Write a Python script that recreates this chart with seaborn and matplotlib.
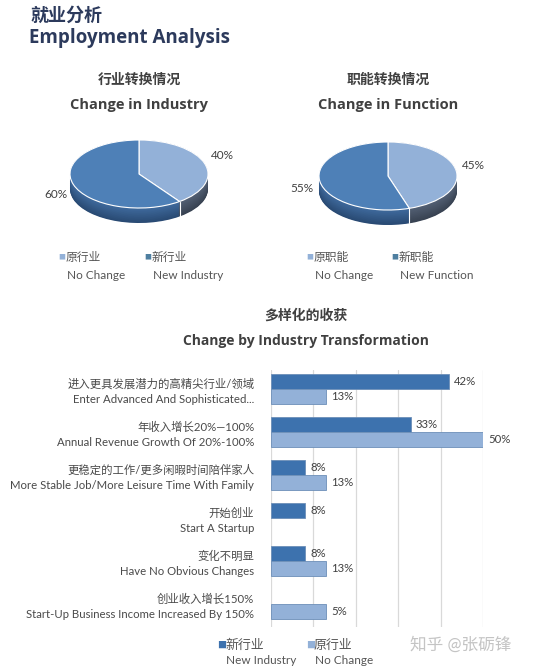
import numpy as np
import pandas as pd
import matplotlib
matplotlib.use("Agg")
import matplotlib.pyplot as plt
import seaborn as sns

# ---------------- data ----------------
pie1_labels = ["原行业", "新行业"]
pie1_labels_en = ["No Change", "New Industry"]
pie1_values = [40, 60]

pie2_labels = ["原职能", "新职能"]
pie2_labels_en = ["No Change", "New Function"]
pie2_values = [45, 55]

bar_categories_cn = ["进入更具发展潜力的高精尖行业/领域", "年收入增长20%—100%",
                     "更稳定的工作/更多闲暇时间陪伴家人", "开始创业",
                     "变化不明显", "创业收入增长150%"]
bar_categories_en = ["Enter Advanced And Sophisticated...", "Annual Revenue Growth Of 20%-100%",
                     "More Stable Job/More Leisure Time With Family", "Start A Startup",
                     "Have No Obvious Changes", "Start-Up Business Income Increased By 150%"]
new_industry = [42, 33, 8, 8, 8, None]
new_industry_labels = ["42%", "33%", "8%", "8%", "8%", None]
no_change = [13, 50, 13, None, 13, 13]
no_change_labels = ["13%", "50%", "13%", None, "13%", "5%"]
series_names = ["新行业", "原行业"]
series_names_en = ["New Industry", "No Change"]

# ---------------- style ----------------
sns.set_theme(style="white")
FAM = ["Lato", "Noto Sans CJK SC", "DejaVu Sans"]
FAMB = ["Open Sans", "Noto Sans CJK SC", "DejaVu Sans"]
plt.rcParams["font.family"] = FAM

W, H = 540, 667
fig = plt.figure(figsize=(W / 100, H / 100), dpi=100)
fig.patch.set_facecolor("white")


def box(x0, y0, x1, y1):
    return [x0 / W, 1 - y1 / H, (x1 - x0) / W, (y1 - y0) / H]


def ftxt(x, y, s, **kw):
    return fig.text(x / W, 1 - y / H, s, **kw)


DARK = "#3D72AE"
LIGHT = "#93B1D8"
TXT = "#404040"

# ---------------- header ----------------
ftxt(30, 16, "就业分析", fontsize=13, fontweight="bold", color="#2C3A5C",
     family=FAMB, va="center", ha="left")
ftxt(29, 38, "Employment Analysis", fontsize=13.5, fontweight="bold", color="#2C3A5C",
     family=FAMB, va="center", ha="left")


# ---------------- pies ----------------
def draw_pie(cx, cy, values, title_cn, title_en, leg_cn, leg_en, leg_x):
    rx, ry, depth_px = 69.0, 34.0, 15.0
    x0, x1, y0, y1 = cx - 115, cx + 115, cy - 45, cy + 50
    ax = fig.add_axes(box(x0, y0, x1, y1))
    depth = depth_px / ry
    top_cols = [LIGHT, "#4E80B7"]
    side_top = np.array([[0.33, 0.38, 0.46], [0.25, 0.42, 0.62]])
    side_bot = np.array([[0.22, 0.26, 0.32], [0.16, 0.29, 0.45]])
    n = 24
    for i, k in enumerate(np.linspace(depth, 0.0, n)):
        t = i / (n - 1)
        cols = [tuple(side_bot[j] * (1 - t) + side_top[j] * t) for j in range(2)]
        ax.pie(values, colors=cols, startangle=90, counterclock=False,
               center=(0, -k), radius=1.0, wedgeprops=dict(linewidth=0))
    total = float(sum(values))
    ang = np.deg2rad(360 * values[0] / total)
    bx, by = np.sin(ang), np.cos(ang)
    if by < 0:
        ax.plot([bx, bx], [by, by - depth], color="white", lw=0.8)
    wedges, texts = ax.pie(values, colors=top_cols, startangle=90, counterclock=False,
                           radius=1.0, labels=[f"{v}%" for v in values],
                           labeldistance=1.09,
                           wedgeprops=dict(edgecolor="white", linewidth=0.8),
                           textprops=dict(fontsize=8.5, color=TXT))
    for t in texts:
        xx, yy = t.get_position()
        t.set_position((xx, yy * 1.455 - (0.12 if yy < 0 else -0.05)))
    ax.set_aspect("auto")
    ax.set_xlim((x0 - cx) / rx, (x1 - cx) / rx)
    ax.set_ylim(-(y1 - cy) / ry, (cy - y0) / ry)
    ax.axis("off")
    # titles
    ftxt(cx, 80, title_cn, fontsize=10, fontweight="bold", color=TXT, family=FAMB,
         ha="center", va="center")
    ftxt(cx, 105, title_en, fontsize=10.5, fontweight="bold", color=TXT, family=FAMB,
         ha="center", va="center")
    # legend
    for j, (lc, le) in enumerate(zip(leg_cn, leg_en)):
        lx = leg_x[j]
        ftxt(lx, 257, "■", fontsize=5, color=[LIGHT, "#4E7FA0"][j], ha="left", va="center")
        ftxt(lx + 8, 257, lc, fontsize=8.5, color="#555555", ha="left", va="center")
        ftxt(lx + 9, 276, le, fontsize=8.5, color="#555555", ha="left", va="center")


draw_pie(139, 174, pie1_values, "行业转换情况", "Change in Industry",
         pie1_labels, pie1_labels_en, [58, 144])
draw_pie(388, 176, pie2_values, "职能转换情况", "Change in Function",
         pie2_labels, pie2_labels_en, [306, 391])

# ---------------- bar chart ----------------
ftxt(306, 316, "多样化的收获", fontsize=10, fontweight="bold", color=TXT, family=FAMB,
     ha="center", va="center")
ftxt(306, 341, "Change by Industry Transformation", fontsize=10, fontweight="bold",
     color=TXT, family=FAMB, ha="center", va="center")

cat_keys = [f"{c}\n{e}" for c, e in zip(bar_categories_cn, bar_categories_en)]
rows = []
for key, v, lab in zip(cat_keys, new_industry, new_industry_labels):
    if v is not None:
        rows.append(dict(cat=key, value=v, series=series_names[0], label=lab))
for key, v, lab in zip(cat_keys, no_change, no_change_labels):
    if v is not None:
        rows.append(dict(cat=key, value=v, series=series_names[1], label=lab))
df = pd.DataFrame(rows)

axb = fig.add_axes(box(271, 370, 483, 627))
sns.barplot(data=df, y="cat", x="value", hue="series", order=cat_keys,
            hue_order=series_names, palette=[DARK, LIGHT], orient="h",
            width=0.68, ax=axb, legend=False, edgecolor="#6d8fb8", linewidth=0.6,
            saturation=1)
axb.set_xlim(0, 50)
axb.set_ylim(5.53, -0.44)
axb.set_xticks(range(0, 51, 10))
axb.set_xticklabels([])
axb.tick_params(axis="x", length=0)
axb.tick_params(axis="y", length=0, pad=12)
axb.grid(axis="x", color="#D9D9D9", lw=0.9)
axb.set_axisbelow(True)
for s in axb.spines.values():
    s.set_visible(False)
axb.set_xlabel("")
axb.set_ylabel("")
axb.set_yticks(range(len(cat_keys)))
axb.set_yticklabels(cat_keys, fontsize=8.2, color="#4a4a4a", linespacing=1.45)

label_map = {}
for _, r in df.iterrows():
    label_map[(r["series"], cat_keys.index(r["cat"]))] = r["label"]
for s_name, cont in zip(series_names, axb.containers):
    for p in cont:
        yc = p.get_y() + p.get_height() / 2
        idx = int(round(yc))
        lab = label_map.get((s_name, idx))
        if lab:
            axb.text(p.get_width() + 1.2, yc, lab, va="center", ha="left",
                     fontsize=8.2, color=TXT, clip_on=False)

# bar legend
for j, (nm, ne, col) in enumerate(zip(series_names, series_names_en, [DARK, LIGHT])):
    lx = [217, 306][j]
    ftxt(lx, 645, "■", fontsize=6.5, color=col, ha="left", va="center")
    ftxt(lx + 8, 645, nm, fontsize=9.3, color="#555555", ha="left", va="center")
    ftxt(lx + 9, 661, ne, fontsize=8.5, color="#555555", ha="left", va="center")

# watermark
ftxt(410, 645, "知乎 @张砺锋", fontsize=12, color="#C4C4C4", ha="left", va="center")

fig.savefig("out.png", dpi=100, facecolor="white")
